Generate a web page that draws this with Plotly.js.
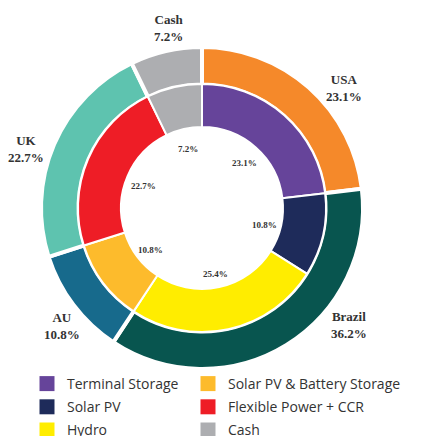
<!DOCTYPE html>
<html>
<head>
<meta charset="utf-8">
<script src="https://cdn.plot.ly/plotly-3.0.1.min.js"></script>
<style>html,body{margin:0;padding:0;background:#fff;}#chart{width:422px;height:436px;}</style>
</head>
<body>
<div id="chart"></div>
<script>
// ---- data ----
const regionLabels = ["USA", "Brazil", "AU", "UK", "Cash"];
const regionValues = [23.1, 36.2, 10.8, 22.7, 7.2];
const regionColors = ["#F5892A", "#08554F", "#176A8C", "#5EC3AF", "#ADAEB1"];

const segmentLabels = ["Terminal Storage", "Solar PV", "Hydro", "Solar PV & Battery Storage", "Flexible Power + CCR", "Cash"];
const segmentValues = [23.1, 10.8, 25.4, 10.8, 22.7, 7.2];
const segmentColors = ["#66449A", "#1E2B5A", "#FFED00", "#FDBB2C", "#EE1D26", "#ADAEB1"];

// ---- layout geometry (pixels) ----
const W = 422, H = 436;
const M = {l: 41, r: 59, t: 47, b: 67, autoexpand: false};
const PW = W - M.l - M.r, PH = H - M.t - M.b;
const CX = M.l + PW / 2, CY = M.t + PH / 2;
const px2x = p => (p - M.l) / PW;
const py2y = p => (H - M.b - p) / PH;

const innerFrac = 248 / 322;
const innerDom = [0.5 - innerFrac / 2, 0.5 + innerFrac / 2];

const traces = [
  {
    type: "pie", name: "Region",
    labels: regionLabels, values: regionValues,
    marker: {colors: regionColors, line: {color: "#ffffff", width: 4}},
    hole: 0.767, sort: false, direction: "clockwise", rotation: 0,
    textinfo: "none", hoverinfo: "label+percent", showlegend: false,
    domain: {x: [0, 1], y: [0, 1]}
  },
  {
    type: "pie", name: "Segment",
    labels: segmentLabels, values: segmentValues,
    marker: {colors: segmentColors, line: {color: "#ffffff", width: 2}},
    hole: 0.653, sort: false, direction: "clockwise", rotation: 0,
    textinfo: "none", hoverinfo: "label+percent", showlegend: false,
    domain: {x: innerDom, y: innerDom}
  }
];

// legend entries: first half in the left column, second half in the right column
segmentLabels.forEach((lab, i) => {
  traces.push({
    type: "scatter", mode: "markers", x: [null], y: [null],
    name: lab, legendgroup: "g" + i,
    legend: i < 3 ? "legend" : "legend2",
    marker: {symbol: "square", size: 15, color: segmentColors[i]},
    hoverinfo: "skip", showlegend: true
  });
});

const annotations = [];
// outer labels (hand placed)
const outerPos = {USA: [344, 88], Brazil: [349, 325], AU: [62, 326], UK: [26, 149], Cash: [168, 28]};
const total = regionValues.reduce((a, b) => a + b, 0);
regionLabels.forEach((lab, i) => {
  const p = outerPos[lab];
  annotations.push({
    xref: "paper", yref: "paper", x: px2x(p[0]), y: py2y(p[1]),
    xanchor: "center", yanchor: "middle", showarrow: false,
    text: "<b>" + lab + "</b><br><b>" + (regionValues[i] / total * 100).toFixed(1) + "%</b>",
    font: {family: "Liberation Serif, serif", size: 13, color: "#333333"}
  });
});

// inner labels, placed inside the hole at each slice's mid angle
const segTotal = segmentValues.reduce((a, b) => a + b, 0);
let cum = 0;
segmentValues.forEach(v => {
  const mid = (cum + v / 2) / segTotal * 2 * Math.PI;
  cum += v;
  const r = 64;
  const x = CX + r * Math.sin(mid);
  const y = CY - r * Math.cos(mid) + 3;
  annotations.push({
    xref: "paper", yref: "paper", x: px2x(x), y: py2y(y),
    xanchor: "center", yanchor: "middle", showarrow: false,
    text: "<b>" + (v / segTotal * 100).toFixed(1) + "%</b>",
    font: {family: "Liberation Serif, serif", size: 9, color: "#333333"}
  });
});

const legendBase = {
  orientation: "v", xref: "container", yref: "container",
  y: (H - 368) / H, xanchor: "left", yanchor: "top",
  tracegroupgap: 2,
  font: {family: "Open Sans, sans-serif", size: 14, color: "#333333"},
  bgcolor: "rgba(0,0,0,0)", itemclick: false
};

const layout = {
  width: W, height: H,
  margin: M,
  paper_bgcolor: "#ffffff", plot_bgcolor: "#ffffff",
  xaxis: {visible: false, range: [0, 1]},
  yaxis: {visible: false, range: [0, 1]},
  showlegend: true,
  legend: Object.assign({}, legendBase, {x: 27 / W}),
  legend2: Object.assign({}, legendBase, {x: 188 / W}),
  annotations: annotations
};

Plotly.newPlot("chart", traces, layout, {displayModeBar: false, staticPlot: true});
</script>
</body>
</html>
